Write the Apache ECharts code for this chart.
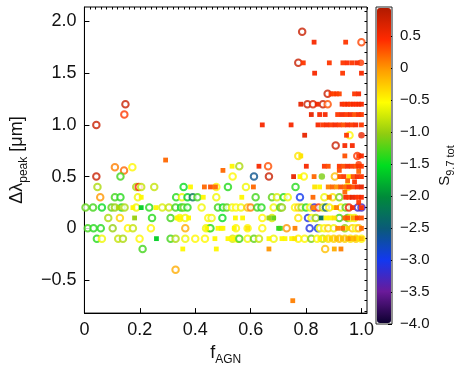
<!DOCTYPE html>
<html>
<head>
<meta charset="utf-8">
<script src="https://cdn.jsdelivr.net/npm/echarts@6/dist/echarts.min.js"></script>
<style>
  html, body { margin: 0; padding: 0; background: #fff; }
  #main { width: 463px; height: 371px; }
</style>
</head>
<body>
<div id="main"></div>
<script>
// [f_AGN, delta lambda_peak, S_9.7 tot]
const circles = [
  [0.786, 1.9, 0.8], [1.0, 1.8, 0.35], [0.772, 1.6, 0.8], [0.878, 1.3, 0.8],
  [0.805, 1.2, 0.8], [0.825, 1.2, 0.7], [0.861, 1.2, 0.8], [0.878, 1.2, 0.3],
  [0.043, 1.0, 0.8], [0.148, 1.2, 0.8], [0.144, 1.1, 0.4],
  [0.957, 0.9, -0.5], [0.907, 0.8, 0.8], [0.772, 0.7, -0.4], [0.985, 0.7, 0.4],
  [0.11, 0.59, 0.1], [0.143, 0.56, 0.2], [0.173, 0.59, -0.5], [0.043, 0.5, 0.8], [0.13, 0.5, -1.3],
  [0.559, 0.6, -0.9], [0.663, 0.6, 0.3], [0.535, 0.5, -0.5], [0.612, 0.5, -2.6], [0.666, 0.5, 0.8],
  [0.792, 0.5, -0.5], [0.904, 0.5, -0.2],
  [0.047, 0.4, -0.9], [0.187, 0.4, -0.9], [0.196, 0.4, 0.5], [0.205, 0.4, -0.8], [0.252, 0.4, -0.8],
  [0.358, 0.4, -1.5], [0.476, 0.4, -0.5], [0.518, 0.4, -1.4], [0.583, 0.4, -0.6], [0.762, 0.4, -1.4],
  [0.95, 0.4, -0.5],
  [0.057, 0.3, 0.0], [0.11, 0.3, -1.3], [0.13, 0.3, -1.4], [0.193, 0.3, -0.6], [0.331, 0.3, -1.4],
  [0.352, 0.3, -0.6], [0.372, 0.3, -1.6], [0.391, 0.3, -2.2], [0.408, 0.3, -1.3], [0.476, 0.3, -0.6],
  [0.618, 0.3, -1.3], [0.677, 0.3, -1.2], [0.695, 0.3, -0.7], [0.719, 0.3, -1.4], [0.734, 0.3, -0.6],
  [0.778, 0.3, -3.0], [0.866, 0.3, -0.6], [0.896, 0.3, -0.4], [0.92, 0.3, -1.1],
  [0.004, 0.2, -1.2], [0.031, 0.2, -1.3], [0.063, 0.2, -1.5], [0.098, 0.2, -1.2], [0.11, 0.2, -1.0],
  [0.134, 0.2, -1.4], [0.145, 0.2, -0.9], [0.187, 0.2, -0.6], [0.234, 0.2, -1.4], [0.281, 0.2, -0.7],
  [0.305, 0.2, -0.8], [0.329, 0.2, -1.3], [0.349, 0.2, -1.5], [0.358, 0.2, -1.2], [0.372, 0.2, -1.4],
  [0.423, 0.2, -0.6], [0.482, 0.2, -1.3], [0.5, 0.2, -1.5], [0.514, 0.2, -1.2], [0.533, 0.2, -0.6],
  [0.547, 0.2, -0.5], [0.565, 0.2, -0.6], [0.589, 0.2, -0.2], [0.6, 0.2, 0.1], [0.624, 0.2, -1.3],
  [0.639, 0.2, -1.4], [0.683, 0.2, -0.6], [0.707, 0.2, -1.3], [0.713, 0.2, -1.0], [0.76, 0.2, -0.5],
  [0.772, 0.2, -0.3], [0.784, 0.2, -0.9], [0.80, 0.2, -1.4], [0.815, 0.2, -0.6], [0.83, 0.2, -3.2],
  [0.845, 0.2, 0.4], [0.861, 0.2, -0.8], [0.872, 0.2, -2.4], [0.884, 0.2, -0.5], [0.926, 0.2, -0.6],
  [0.943, 0.2, -1.2], [0.955, 0.2, 0.6], [0.987, 0.2, -3.2], [1.0, 0.2, -3.3],
  [0.086, 0.1, -0.9], [0.128, 0.1, -0.3], [0.244, 0.1, -1.4], [0.311, 0.1, -1.3], [0.344, 0.1, -0.5],
  [0.364, 0.1, -0.6], [0.447, 0.1, -0.5], [0.459, 0.1, -0.6], [0.498, 0.1, -1.5], [0.642, 0.1, -0.5],
  [0.677, 0.1, -0.7], [0.772, 0.1, -0.4], [0.807, 0.1, -3.1], [0.82, 0.1, -0.5], [0.835, 0.1, -1.0],
  [0.92, 0.1, -1.3], [0.95, 0.1, -1.2], [0.96, 0.1, -0.6], [0.975, 0.1, -0.6],
  [0.012, 0, -1.3], [0.033, 0, -1.4], [0.059, 0, -1.4], [0.102, 0, -1.0], [0.157, 0, -0.5],
  [0.175, 0, -0.8], [0.24, 0, -0.5], [0.364, 0, -0.1], [0.439, 0, -0.6], [0.45, 0, -0.5],
  [0.455, 0, -1.4], [0.547, 0, -0.5], [0.589, 0, -0.5], [0.642, 0, -0.5], [0.73, 0, 0.0],
  [0.813, 0, -3.1], [0.843, 0, -3.0], [0.85, 0, -0.6], [0.866, 0, -0.5], [0.88, 0, -0.3],
  [0.9, 0, -0.6], [0.94, 0, -1.0], [0.967, 0, -0.3], [0.98, 0, -0.5], [0.99, 0, -0.2],
  [0.045, -0.1, -1.4], [0.063, -0.1, -0.6], [0.122, -0.1, -0.8], [0.139, -0.1, -0.9], [0.199, -0.1, -0.5],
  [0.311, -0.1, -1.3], [0.329, -0.1, -0.9], [0.364, -0.1, -0.6], [0.4, -0.1, -0.5], [0.435, -0.1, -0.5],
  [0.535, -0.1, -0.7], [0.553, -0.1, -0.5], [0.559, -0.1, -1.3], [0.589, -0.1, -0.6], [0.612, -0.1, -1.2],
  [0.63, -0.1, -0.8], [0.683, -0.1, -0.6], [0.772, -0.1, -0.5], [0.795, -0.1, -0.5], [0.819, -0.1, -1.1],
  [0.84, -0.1, -0.5], [0.86, -0.1, -0.8], [0.88, -0.1, -0.4], [0.9, -0.1, -0.3], [0.92, -0.1, -0.2],
  [0.94, -0.1, -0.3], [0.96, -0.1, -0.4], [0.98, -0.1, -0.3], [1.0, -0.1, -0.5],
  [0.21, -0.2, -1.3], [0.869, -0.2, -0.2], [0.329, -0.4, -0.1]
];

const squares = [
  [0.829, 1.8, 0.5], [0.943, 1.8, 0.4],
  [0.79, 1.6, 0.4], [0.884, 1.6, 0.4], [0.933, 1.6, 0.4], [0.949, 1.6, 0.45], [0.967, 1.6, 0.4], [0.985, 1.6, 0.5],
  [0.831, 1.5, 0.5], [0.932, 1.5, 0.4], [1.0, 1.5, 0.5],
  [0.89, 1.3, 0.4], [0.9, 1.3, 0.35], [0.91, 1.3, 0.4], [0.92, 1.3, 0.35], [0.975, 1.3, 0.4], [0.99, 1.3, 0.5],
  [0.781, 1.2, 0.6], [0.84, 1.2, 0.55], [0.93, 1.2, 0.5], [0.94, 1.2, 0.4], [0.95, 1.2, 0.5], [0.96, 1.2, 0.4],
  [0.97, 1.2, 0.5], [0.98, 1.2, 0.45], [0.99, 1.2, 0.5], [1.0, 1.2, 0.5],
  [0.819, 1.1, 0.6], [0.849, 1.1, 0.5], [0.869, 1.1, 0.5], [0.914, 1.1, 0.4], [0.93, 1.1, 0.5], [0.945, 1.1, 0.4],
  [0.96, 1.1, 0.5], [0.975, 1.1, 0.3], [0.99, 1.1, 0.5], [1.0, 1.1, 0.4],
  [0.642, 1.0, 0.5], [0.746, 1.0, 0.5], [0.843, 1.0, 0.5], [0.86, 1.0, 0.4], [0.875, 1.0, 0.5], [0.89, 1.0, 0.4],
  [0.905, 1.0, 0.5], [0.92, 1.0, 0.4], [0.935, 1.0, 0.3], [0.95, 1.0, 0.5], [0.965, 1.0, 0.4], [0.98, 1.0, 0.5],
  [1.0, 1.0, 0.4],
  [0.795, 0.9, 0.6], [0.946, 0.9, 0.4],
  [0.94, 0.8, 0.5], [0.967, 0.8, 0.5],
  [0.781, 0.7, -0.4], [0.94, 0.7, 0.3], [0.99, 0.7, 0.4], [1.0, 0.7, 0.5],
  [0.293, 0.66, 0.2], [0.5, 0.56, 0.2], [0.533, 0.6, -0.5], [0.63, 0.6, 0.5], [0.801, 0.6, 0.5], [0.866, 0.6, 0.4],
  [0.88, 0.6, 0.3], [0.92, 0.6, 0.4], [0.935, 0.6, 0.3], [0.95, 0.6, 0.5], [0.965, 0.6, 0.4], [0.98, 0.6, 0.3],
  [0.99, 0.6, 0.5], [1.0, 0.6, 0.4], [0.92, 0.56, 0.3], [0.99, 0.55, 0.2],
  [0.755, 0.5, 0.6], [0.778, 0.5, -0.5], [0.829, 0.5, 0.2], [0.922, 0.5, 0.3], [0.937, 0.5, 0.4], [0.955, 0.5, -0.4],
  [0.97, 0.5, 0.3], [0.985, 0.5, 0.5], [1.0, 0.5, 0.4], [0.95, 0.46, 0.2], [0.975, 0.45, 0.4],
  [0.383, 0.4, -0.5], [0.433, 0.4, 0.2], [0.455, 0.4, 0.3], [0.473, 0.4, 0.2], [0.61, 0.4, 0.2], [0.831, 0.4, -0.4],
  [0.849, 0.4, -0.5], [0.88, 0.4, 0.1], [0.895, 0.4, 0.2], [0.91, 0.4, 0.0], [0.925, 0.4, 0.3], [0.94, 0.4, 0.2],
  [0.955, 0.4, 0.4], [0.97, 0.4, 0.3], [0.985, 0.4, 0.5], [1.0, 0.4, 0.6],
  [0.205, 0.3, -0.5], [0.429, 0.3, -0.5], [0.568, 0.3, -0.5], [0.825, 0.3, 0.2], [0.884, 0.3, 0.1], [0.943, 0.3, 0.5],
  [0.955, 0.3, 0.4], [0.967, 0.3, 0.6], [0.98, 0.3, 0.5], [0.99, 0.3, 0.4], [1.0, 0.3, 0.5], [0.94, 0.35, 0.2],
  [0.99, 0.25, 0.4],
  [0.122, 0.2, -0.9], [0.175, 0.2, -0.5], [0.205, 0.2, -1.6], [0.258, 0.2, -0.5], [0.825, 0.2, 0.1],
  [0.967, 0.2, 0.5], [1.0, 0.2, 0.5], [0.9, 0.2, -0.4], [0.91, 0.2, 0.1],
  [0.181, 0.1, -1.0], [0.334, 0.1, -0.5], [0.346, 0.1, -0.5], [0.376, 0.1, -0.5], [0.545, 0.1, -0.5],
  [0.571, 0.1, -0.5], [0.666, 0.1, -1.0], [0.683, 0.1, -1.2], [0.855, 0.1, -2.3], [0.872, 0.1, -0.5],
  [0.887, 0.1, -0.5], [0.902, 0.1, -0.4], [0.94, 0.1, 0.2], [0.95, 0.1, 0.3], [0.97, 0.1, 0.0],
  [0.985, 0.1, 0.4], [1.0, 0.1, 0.3],
  [0.441, 0, -0.5], [0.482, 0, -0.5], [0.494, 0, -0.6], [0.5, 0, -0.5], [0.541, 0, -0.5], [0.589, 0, -0.4],
  [0.701, 0, -1.4], [0.707, 0, -1.3], [0.76, 0, 0.1], [0.914, 0, 0.1], [0.932, 0, 0.2], [0.95, 0, -0.3],
  [1.0, 0, 0.2],
  [0.26, -0.1, -1.6], [0.471, -0.1, -0.5], [0.518, -0.1, -0.5], [0.535, -0.1, -0.5], [0.666, -0.1, -0.5],
  [0.713, -0.1, -0.5], [0.724, -0.1, -0.5], [0.748, -0.1, -0.5], [0.759, -0.1, -0.4], [0.85, -0.1, -0.5],
  [0.87, -0.1, -0.4], [0.89, -0.1, -0.3], [0.91, -0.1, -0.2], [0.93, -0.1, -0.2], [0.95, -0.1, -0.1],
  [0.96, -0.1, 0.0], [0.97, -0.1, -0.2], [0.98, -0.1, -0.1], [0.99, -0.1, -0.4], [1.0, -0.1, -0.2],
  [0.355, -0.2, -0.5], [0.476, -0.2, -0.5], [0.666, -0.2, 0.0], [0.902, -0.2, -0.1], [0.926, -0.2, 0.1],
  [0.752, -0.7, 0.1]
];

const dots = [
  [0.998, 1.6, 0.4], [1.0, 0.9, 0.6], [0.857, 0.5, -1.1], [0.99, 0.62, 0.4]
];

// tick labels
const xTicks = [0, 0.2, 0.4, 0.6, 0.8, 1.0];
const yTicks = [-0.5, 0, 0.5, 1.0, 1.5, 2.0];
const xRange = [0, 1.02];
const yRange = [-0.82, 2.14];
const sRange = [-4.0, 0.95];

// colour bar, low -> high
const cmap = ['#0d0030', '#6a1a9a', '#1238f0', '#0a5a78', '#008a3a', '#00dd20',
  '#90cc10', '#ffff00', '#ffa000', '#ff2a00', '#b01a00'];

const xMinor = [];
for (let i = 0; i <= 51; i++) xMinor.push(+(i * 0.02).toFixed(2));
const yMinor = [];
for (let i = -8; i <= 21; i++) yMinor.push(i / 10);

const fmt = v => v === 0 ? '0' : Number(v).toFixed(1).replace('-', '\u2212');
const FONT = 'Liberation Sans';
const sub = { fontSize: 12, fontFamily: FONT, color: '#111', verticalAlign: 'bottom', padding: [0, 0, -4, 0] };

const myChart = echarts.init(document.getElementById('main'));
const option = {
  backgroundColor: '#fff',
  animation: false,
  textStyle: { fontFamily: FONT },
  grid: [
    { left: 79, top: 7, width: 288, height: 316, show: true, borderColor: '#000', borderWidth: 1 },
    { left: 376, top: 7, width: 16, height: 317, show: true, borderColor: '#222', borderWidth: 1, backgroundColor: 'transparent' }
  ],
  xAxis: [
    {
      type: 'value', gridIndex: 0, min: xRange[0], max: xRange[1],
      splitLine: { show: false },
      axisLine: { onZero: false, lineStyle: { color: '#000' } },
      axisTick: { inside: true, length: 5, customValues: xTicks, lineStyle: { color: '#000' } },
      axisLabel: { customValues: xTicks, formatter: fmt, fontSize: 18, color: '#111', margin: 8 },
      name: 'f{sub|AGN}', nameLocation: 'middle', nameGap: 27,
      nameTextStyle: { fontSize: 18, color: '#111', rich: { sub } }
    },
    {
      type: 'value', gridIndex: 0, min: xRange[0], max: xRange[1],
      splitLine: { show: false }, axisLine: { show: false, onZero: false }, axisLabel: { show: false },
      axisTick: { inside: true, length: 2.5, customValues: xMinor, lineStyle: { color: '#000' } }
    },
    { type: 'value', gridIndex: 1, min: 0, max: 1, show: false }
  ],
  yAxis: [
    {
      type: 'value', gridIndex: 0, min: yRange[0], max: yRange[1],
      splitLine: { show: false },
      axisLine: { onZero: false, lineStyle: { color: '#000' } },
      axisTick: { inside: true, length: 5, customValues: yTicks, lineStyle: { color: '#000' } },
      axisLabel: { customValues: yTicks, formatter: fmt, fontSize: 18, color: '#111', margin: 8 },
      name: '\u0394\u03bb{sub|peak} [\u03bcm]', nameLocation: 'middle', nameGap: 54, nameRotate: 90,
      nameTextStyle: { fontSize: 18, color: '#111', rich: { sub } }
    },
    {
      type: 'value', gridIndex: 0, min: yRange[0], max: yRange[1],
      splitLine: { show: false }, axisLine: { show: false, onZero: false }, axisLabel: { show: false },
      axisTick: { inside: true, length: 2.5, customValues: yMinor, lineStyle: { color: '#000' } }
    },
    {
      type: 'value', gridIndex: 1, position: 'right', min: sRange[0], max: sRange[1], interval: 0.5,
      splitLine: { show: false }, axisLine: { show: false, onZero: false },
      axisTick: { inside: true, length: 4, lineStyle: { color: '#000' } },
      axisLabel: { formatter: fmt, fontSize: 15, color: '#111', margin: 8, showMaxLabel: false },
      name: 'S{sub|9.7 tot}', nameLocation: 'middle', nameGap: 45, nameRotate: 90,
      nameTextStyle: { fontSize: 15, color: '#111', rich: { sub: Object.assign({}, sub, { fontSize: 11 }) } }
    }
  ],
  visualMap: {
    type: 'continuous', min: sRange[0], max: sRange[1], dimension: 2, seriesIndex: [0, 1, 2],
    left: 377, top: 8, itemWidth: 14, itemHeight: 315, padding: 0,
    calculable: false, hoverLink: false, text: null, showLabel: false,
    inRange: { color: cmap }
  },
  series: [
    {
      name: 'circles', type: 'scatter', xAxisIndex: 0, yAxisIndex: 0,
      symbol: 'emptyCircle', symbolSize: 6.5, itemStyle: { borderWidth: 0.9, opacity: 0.8 },
      data: circles
    },
    {
      name: 'squares', type: 'scatter', xAxisIndex: 0, yAxisIndex: 0,
      symbol: 'rect', symbolSize: 4.8, itemStyle: { opacity: 0.95 },
      data: squares
    },
    {
      name: 'dots', type: 'scatter', xAxisIndex: 0, yAxisIndex: 0,
      symbol: 'circle', symbolSize: 6.5, data: dots
    }
  ]
};
myChart.setOption(option);
</script>
</body>
</html>
